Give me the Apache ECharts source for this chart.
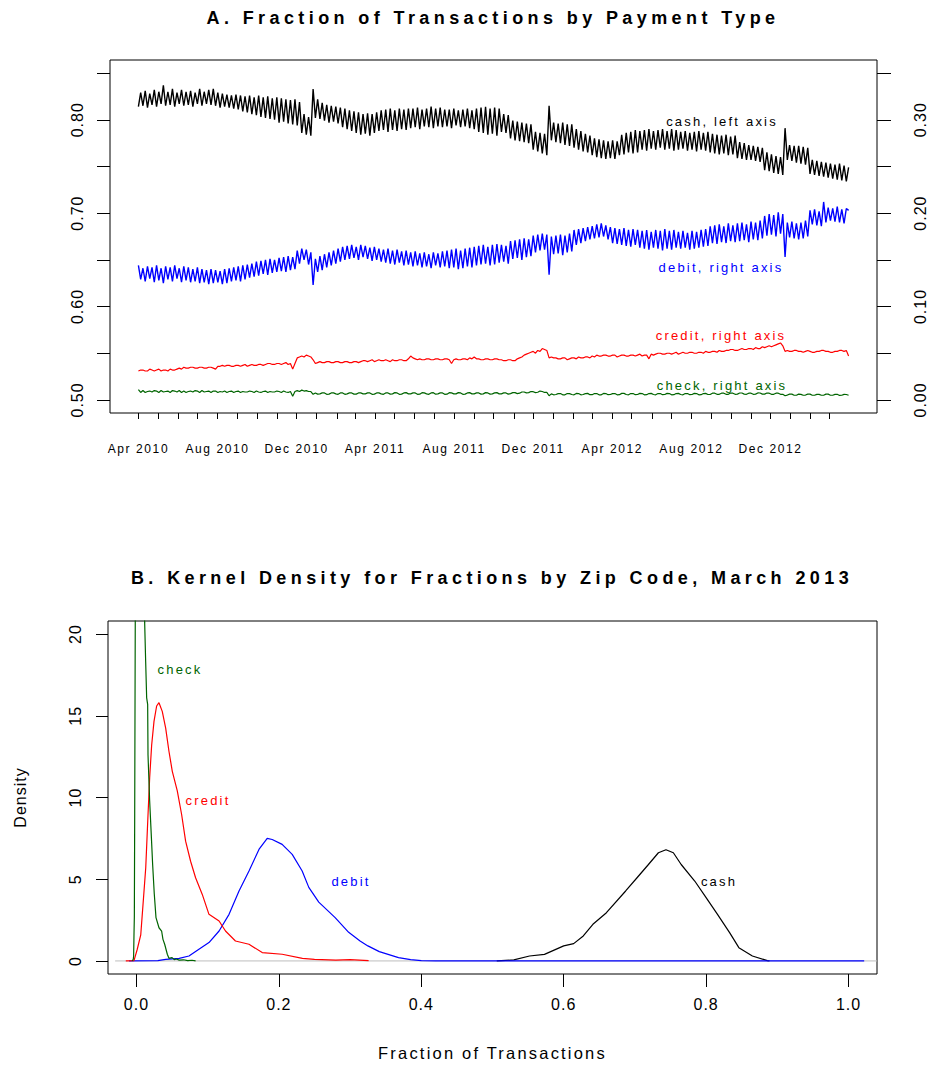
<!DOCTYPE html>
<html>
<head>
<meta charset="utf-8">
<title>Payment type fractions</title>
<script src="https://cdn.jsdelivr.net/npm/echarts@6/dist/echarts.min.js"></script>
<style>
  html, body { margin: 0; padding: 0; background: #fff; }
  #chart { width: 931px; height: 1068px; }
  /* spaced-out lettering of the plot texts */
  #chart text { letter-spacing: 1px; }
  #chart text[style*="12px"] { letter-spacing: 1.6px; }
  #chart text[style*="13px"] { letter-spacing: 2.2px; }
  #chart text[style*="16.5px"] { letter-spacing: 2.2px; }
  #chart text[style*="bold"] { letter-spacing: 4.4px; }
</style>
</head>
<body>
<div id="chart"></div>
<script>
// ---------- Panel A: share of transactions by payment type ----------
// Values are sampled every 3.5 days from 1 Apr 2010 (two samples per week).
const seriesStart = '2010-04-01';
const sampleStepDays = 3.5;

// cash, left axis
const cashShare = [
  0.814,0.829, 0.815,0.831, 0.813,0.828, 0.816,0.832, 0.814,0.830, 0.817,0.837, 0.815,0.830, 0.816,0.833, 0.814,0.829, 0.817,0.832,
  0.815,0.830, 0.816,0.831, 0.814,0.829, 0.817,0.833, 0.815,0.830, 0.817,0.832, 0.816,0.833, 0.815,0.829, 0.813,0.828, 0.814,0.827,
  0.813,0.826, 0.812,0.827, 0.811,0.826, 0.809,0.825, 0.808,0.826, 0.806,0.824, 0.805,0.826, 0.803,0.824, 0.802,0.825, 0.801,0.823,
  0.800,0.824, 0.797,0.823, 0.798,0.822, 0.796,0.821, 0.795,0.822, 0.794,0.819, 0.786,0.806, 0.784,0.803, 0.783,0.833, 0.802,0.822,
  0.801,0.818, 0.799,0.816, 0.797,0.815, 0.798,0.814, 0.796,0.813, 0.792,0.812, 0.790,0.810, 0.788,0.809, 0.786,0.808, 0.784,0.806,
  0.785,0.807, 0.783,0.806, 0.786,0.808, 0.788,0.810, 0.789,0.811, 0.787,0.812, 0.789,0.810, 0.788,0.812, 0.790,0.811, 0.789,0.812,
  0.791,0.812, 0.792,0.813, 0.790,0.811, 0.793,0.812, 0.792,0.814, 0.791,0.812, 0.793,0.813, 0.792,0.811, 0.793,0.811, 0.791,0.812,
  0.794,0.810, 0.792,0.811, 0.793,0.812, 0.791,0.810, 0.790,0.812, 0.787,0.813, 0.786,0.814, 0.784,0.812, 0.785,0.813, 0.783,0.812,
  0.787,0.806, 0.786,0.805, 0.780,0.799, 0.778,0.798, 0.777,0.797, 0.776,0.796, 0.775,0.795, 0.768,0.787, 0.766,0.786, 0.764,0.785,
  0.762,0.815, 0.778,0.797, 0.776,0.796, 0.775,0.797, 0.773,0.795, 0.772,0.795, 0.770,0.790, 0.768,0.788, 0.766,0.785, 0.765,0.783,
  0.762,0.780, 0.760,0.779, 0.759,0.778, 0.758,0.777, 0.759,0.778, 0.758,0.777, 0.762,0.784, 0.763,0.786, 0.765,0.787, 0.764,0.789,
  0.765,0.788, 0.768,0.789, 0.767,0.790, 0.769,0.788, 0.768,0.789, 0.770,0.790, 0.768,0.788, 0.769,0.790, 0.767,0.789, 0.768,0.787,
  0.769,0.788, 0.767,0.786, 0.768,0.787, 0.766,0.788, 0.768,0.786, 0.767,0.787, 0.765,0.785, 0.764,0.784, 0.763,0.783, 0.764,0.784,
  0.762,0.782, 0.763,0.783, 0.759,0.776, 0.758,0.775, 0.757,0.773, 0.757,0.772, 0.756,0.771, 0.755,0.770, 0.746,0.765, 0.745,0.763,
  0.743,0.761, 0.742,0.760, 0.741,0.791, 0.757,0.773, 0.756,0.772, 0.754,0.772, 0.753,0.771, 0.752,0.770, 0.742,0.757, 0.741,0.756,
  0.740,0.755, 0.739,0.754, 0.738,0.753, 0.737,0.752, 0.736,0.753, 0.735,0.751, 0.734,0.749
];

// debit, right axis
const debitShare = [
  0.144,0.129, 0.141,0.127, 0.143,0.130, 0.142,0.126, 0.144,0.128, 0.141,0.125, 0.143,0.129, 0.142,0.127, 0.144,0.130, 0.141,0.126,
  0.143,0.128, 0.142,0.126, 0.140,0.127, 0.142,0.125, 0.140,0.126, 0.139,0.124, 0.140,0.125, 0.139,0.126, 0.138,0.124, 0.140,0.125,
  0.141,0.127, 0.142,0.128, 0.143,0.127, 0.144,0.129, 0.145,0.131, 0.146,0.132, 0.148,0.133, 0.149,0.135, 0.150,0.134, 0.151,0.136,
  0.150,0.137, 0.152,0.138, 0.153,0.137, 0.154,0.139, 0.153,0.140, 0.160,0.146, 0.162,0.150, 0.161,0.145, 0.158,0.123, 0.151,0.137,
  0.154,0.139, 0.156,0.142, 0.158,0.144, 0.160,0.146, 0.162,0.148, 0.164,0.150, 0.165,0.151, 0.166,0.152, 0.164,0.150, 0.166,0.153,
  0.165,0.151, 0.163,0.149, 0.164,0.150, 0.162,0.148, 0.161,0.147, 0.162,0.146, 0.160,0.145, 0.161,0.147, 0.159,0.144, 0.160,0.145,
  0.158,0.143, 0.159,0.144, 0.157,0.142, 0.158,0.143, 0.156,0.141, 0.158,0.144, 0.157,0.142, 0.159,0.143, 0.160,0.141, 0.161,0.142,
  0.162,0.140, 0.160,0.141, 0.162,0.143, 0.163,0.142, 0.164,0.144, 0.165,0.145, 0.166,0.146, 0.164,0.144, 0.166,0.145, 0.167,0.147,
  0.166,0.148, 0.165,0.146, 0.170,0.151, 0.171,0.152, 0.172,0.150, 0.173,0.153, 0.172,0.154, 0.176,0.158, 0.177,0.160, 0.178,0.161,
  0.177,0.134, 0.175,0.156, 0.176,0.157, 0.177,0.155, 0.176,0.158, 0.178,0.159, 0.182,0.166, 0.183,0.168, 0.184,0.170, 0.185,0.172,
  0.186,0.173, 0.188,0.174, 0.189,0.175, 0.187,0.172, 0.185,0.168, 0.184,0.167, 0.183,0.166, 0.184,0.165, 0.182,0.164, 0.183,0.166,
  0.182,0.163, 0.181,0.162, 0.182,0.161, 0.180,0.163, 0.182,0.162, 0.181,0.160, 0.183,0.162, 0.181,0.161, 0.182,0.163, 0.180,0.162,
  0.181,0.163, 0.179,0.161, 0.181,0.162, 0.180,0.163, 0.182,0.164, 0.183,0.165, 0.186,0.168, 0.187,0.167, 0.188,0.169, 0.186,0.168,
  0.189,0.170, 0.187,0.169, 0.189,0.170, 0.190,0.171, 0.188,0.169, 0.191,0.172, 0.190,0.171, 0.192,0.173, 0.197,0.176, 0.199,0.177,
  0.198,0.175, 0.201,0.178, 0.199,0.153, 0.190,0.174, 0.191,0.173, 0.189,0.172, 0.190,0.173, 0.192,0.175, 0.203,0.188, 0.204,0.187,
  0.202,0.186, 0.212,0.190, 0.206,0.192, 0.205,0.191, 0.207,0.190, 0.204,0.189, 0.205,0.203
];

// credit, right axis
const creditShare = [
  0.031,0.032, 0.032,0.031, 0.031,0.033, 0.032,0.031, 0.032,0.033, 0.031,0.032, 0.032,0.031, 0.033,0.032, 0.032,0.033, 0.034,0.033,
  0.035,0.034, 0.034,0.035, 0.035,0.034, 0.034,0.035, 0.035,0.034, 0.034,0.035, 0.035,0.034, 0.033,0.036, 0.036,0.037, 0.036,0.037,
  0.037,0.036, 0.036,0.037, 0.037,0.036, 0.037,0.038, 0.036,0.037, 0.038,0.037, 0.037,0.038, 0.038,0.037, 0.038,0.039, 0.039,0.038,
  0.038,0.039, 0.039,0.038, 0.039,0.040, 0.038,0.039, 0.033,0.039, 0.045,0.046, 0.047,0.046, 0.048,0.047, 0.046,0.043, 0.039,0.040,
  0.041,0.040, 0.040,0.041, 0.041,0.040, 0.040,0.041, 0.041,0.040, 0.040,0.041, 0.041,0.040, 0.040,0.041, 0.041,0.040, 0.041,0.042,
  0.042,0.041, 0.042,0.043, 0.041,0.042, 0.043,0.042, 0.042,0.043, 0.042,0.041, 0.043,0.042, 0.042,0.043, 0.043,0.042, 0.042,0.044,
  0.047,0.045, 0.044,0.043, 0.044,0.043, 0.043,0.044, 0.044,0.043, 0.043,0.044, 0.044,0.043, 0.043,0.044, 0.044,0.043, 0.039,0.043,
  0.044,0.043, 0.043,0.044, 0.044,0.043, 0.045,0.044, 0.046,0.044, 0.044,0.043, 0.043,0.044, 0.044,0.043, 0.043,0.044, 0.044,0.043,
  0.043,0.042, 0.042,0.043, 0.043,0.042, 0.042,0.044, 0.045,0.046, 0.048,0.049, 0.050,0.051, 0.052,0.050, 0.053,0.052, 0.055,0.054,
  0.053,0.045, 0.046,0.045, 0.045,0.044, 0.044,0.045, 0.045,0.043, 0.044,0.045, 0.045,0.044, 0.046,0.045, 0.045,0.046, 0.046,0.045,
  0.047,0.046, 0.048,0.047, 0.047,0.048, 0.048,0.047, 0.047,0.048, 0.048,0.046, 0.047,0.048, 0.048,0.047, 0.047,0.048, 0.048,0.047,
  0.048,0.049, 0.047,0.048, 0.048,0.044, 0.049,0.048, 0.049,0.050, 0.050,0.049, 0.049,0.050, 0.050,0.049, 0.050,0.051, 0.049,0.050,
  0.051,0.050, 0.050,0.051, 0.051,0.050, 0.050,0.051, 0.051,0.050, 0.052,0.051, 0.051,0.052, 0.052,0.051, 0.053,0.052, 0.052,0.053,
  0.053,0.054, 0.054,0.053, 0.053,0.054, 0.055,0.054, 0.054,0.055, 0.055,0.054, 0.056,0.055, 0.055,0.057, 0.056,0.057, 0.058,0.057,
  0.058,0.059, 0.060,0.061, 0.058,0.052, 0.053,0.052, 0.052,0.053, 0.053,0.052, 0.052,0.051, 0.052,0.053, 0.052,0.051, 0.051,0.052,
  0.052,0.053, 0.053,0.052, 0.052,0.051, 0.051,0.052, 0.052,0.053, 0.053,0.052, 0.053,0.047
];

// check, right axis
const checkShare = [
  0.011,0.008, 0.010,0.008, 0.009,0.0095, 0.0085,0.010, 0.0095,0.008, 0.010,0.0085, 0.009,0.0095, 0.008,0.010, 0.0095,0.0085, 0.010,0.008,
  0.0095,0.008, 0.009,0.0095, 0.0085,0.010, 0.0095,0.008, 0.010,0.0085, 0.009,0.0095, 0.008,0.0095, 0.0095,0.008, 0.009,0.0085, 0.0095,0.008,
  0.009,0.0095, 0.008,0.009, 0.0095,0.008, 0.009,0.0085, 0.0085,0.0095, 0.009,0.008, 0.0095,0.0085, 0.008,0.009, 0.0095,0.008, 0.009,0.0085,
  0.0085,0.0095, 0.009,0.008, 0.0095,0.0085, 0.008,0.009, 0.004,0.009, 0.010,0.009, 0.0105,0.0095, 0.010,0.009, 0.009,0.006, 0.0075,0.0062,
  0.0065,0.0075, 0.0075,0.006, 0.0062,0.0075, 0.0075,0.0065, 0.006,0.0075, 0.0075,0.006, 0.0065,0.0075, 0.0075,0.0062, 0.0062,0.0075, 0.0075,0.0065,
  0.0065,0.0075, 0.0075,0.006, 0.0062,0.0075, 0.0075,0.0065, 0.006,0.0075, 0.0075,0.0062, 0.0065,0.0078, 0.0075,0.006, 0.0062,0.0075, 0.0078,0.0065,
  0.0065,0.0075, 0.0075,0.006, 0.0062,0.0078, 0.0075,0.0065, 0.006,0.0075, 0.0078,0.0062, 0.0065,0.0075, 0.0075,0.006, 0.0062,0.0078, 0.0075,0.0065,
  0.0065,0.0078, 0.0075,0.006, 0.0062,0.0075, 0.0078,0.0065, 0.0065,0.0075, 0.0075,0.0062, 0.0065,0.0078, 0.0075,0.0062, 0.0065,0.0075, 0.0078,0.0065,
  0.0065,0.0075, 0.0075,0.0062, 0.0068,0.0078, 0.0078,0.0068, 0.0072,0.0085, 0.0085,0.0075, 0.0078,0.009, 0.0088,0.0078, 0.0082,0.0095, 0.009,0.008,
  0.008,0.0045, 0.0065,0.0055, 0.0058,0.0068, 0.0068,0.0055, 0.0055,0.0068, 0.0068,0.0058, 0.0055,0.007, 0.0068,0.0055, 0.0058,0.0068, 0.007,0.0056,
  0.0056,0.0068, 0.0068,0.0055, 0.0055,0.007, 0.0068,0.0056, 0.0058,0.0068, 0.0068,0.0055, 0.0056,0.007, 0.007,0.0058, 0.0055,0.0068, 0.0068,0.0056,
  0.0058,0.007, 0.0068,0.0055, 0.0056,0.0068, 0.007,0.0058, 0.0055,0.0068, 0.0068,0.0056, 0.0058,0.007, 0.0068,0.0055, 0.0056,0.0068, 0.007,0.0058,
  0.0055,0.0068, 0.0068,0.0056, 0.0058,0.007, 0.0068,0.0055, 0.0056,0.0068, 0.007,0.0058, 0.0058,0.0072, 0.0072,0.006, 0.006,0.0072, 0.0072,0.006,
  0.006,0.0074, 0.0072,0.006, 0.0062,0.0074, 0.0074,0.0062, 0.006,0.0072, 0.0072,0.006, 0.0062,0.0075, 0.0074,0.0062, 0.0062,0.0074, 0.0072,0.006,
  0.006,0.0072, 0.0072,0.006, 0.006,0.0045, 0.0052,0.0062, 0.0062,0.005, 0.005,0.0062, 0.006,0.005, 0.0052,0.0062, 0.0062,0.005, 0.005,0.006,
  0.006,0.005, 0.005,0.0062, 0.0062,0.005, 0.005,0.006, 0.006,0.0048, 0.005,0.006, 0.0058,0.005
];

const dateTickLabels = ['Apr 2010', 'Aug 2010', 'Dec 2010', 'Apr 2011', 'Aug 2011', 'Dec 2011', 'Apr 2012', 'Aug 2012', 'Dec 2012'];
const dateTickDates = ['2010-04-01', '2010-08-01', '2010-12-01', '2011-04-01', '2011-08-01', '2011-12-01', '2012-04-01', '2012-08-01', '2012-12-01'];
const leftAxisTicks = [0.50, 0.55, 0.60, 0.65, 0.70, 0.75, 0.80, 0.85];
const leftAxisLabels = [0.50, 0.60, 0.70, 0.80];
const rightAxisTicks = [0.00, 0.05, 0.10, 0.15, 0.20, 0.25, 0.30, 0.35];
const rightAxisLabels = [0.00, 0.10, 0.20, 0.30];

// ---------- Panel B: kernel densities by zip code, March 2013 ----------
// [fraction of transactions, density]
const cashDensity = [
  [0.506,0], [0.53,0.06], [0.552,0.3], [0.573,0.4], [0.6,0.92], [0.614,1.06], [0.6275,1.53], [0.641,2.24],
  [0.66,2.95], [0.687,4.28], [0.703,5.09], [0.719,5.9], [0.733,6.62], [0.7436,6.8], [0.754,6.62], [0.765,5.9],
  [0.784,4.89], [0.8,3.87], [0.816,2.85], [0.833,1.73], [0.846,0.81], [0.865,0.3], [0.886,0.02], [0.889,0]
];
const debitDensity = [
  [-0.0105,0], [0.03,0.02], [0.041,0.1], [0.06,0.16], [0.0737,0.3], [0.0877,0.71], [0.1018,1.12], [0.116,1.83],
  [0.13,2.85], [0.144,4.28], [0.158,5.5], [0.172,6.82], [0.1836,7.5], [0.1906,7.43], [0.2046,7.13], [0.2187,6.52],
  [0.2327,5.5], [0.242,4.5], [0.256,3.6], [0.279,2.65], [0.298,1.75], [0.314,1.22], [0.325,0.92], [0.341,0.57],
  [0.368,0.2], [0.385,0.08], [0.4,0.02], [0.42,0], [1.022,0]
];
const creditDensity = [
  [-0.015,0], [-0.0035,0.02], [0.001,0.7], [0.006,1.6], [0.0096,3.7], [0.013,5.7], [0.016,8.75], [0.0185,11.2],
  [0.0213,13.2], [0.0246,14.66], [0.0283,15.6], [0.0316,15.8], [0.0362,15.27], [0.041,14.25], [0.0456,12.83],
  [0.0503,11.6], [0.0573,10.4], [0.0634,8.96], [0.069,7.33], [0.076,6.1], [0.083,5.09], [0.0924,4.07], [0.1018,2.85],
  [0.116,2.44], [0.125,1.83], [0.139,1.22], [0.158,1.02], [0.1766,0.51], [0.2046,0.41], [0.233,0.16], [0.25,0.1],
  [0.28,0.05], [0.3,0.08], [0.326,0.02]
];
const checkDensity = [
  [-0.006,0], [-0.0045,0.1], [-0.004,0.3], [-0.0035,1.6], [-0.003,2.7], [-0.0025,9], [-0.0017,21], [0,38],
  [0.003,47], [0.006,44], [0.008,36], [0.010,26], [0.0115,20.7], [0.0129,18.3], [0.0143,16.1], [0.0157,15.7],
  [0.0162,12.6], [0.0185,9.8], [0.021,7.5], [0.0227,5.9], [0.025,4.1], [0.0274,2.65], [0.0316,2.03], [0.0353,1.83],
  [0.0372,1.32], [0.0396,1.02], [0.0433,0.41], [0.0456,0.16], [0.05,0.2], [0.053,0.08], [0.056,0.12], [0.06,0.05],
  [0.066,0.07], [0.072,0.02], [0.078,0.04], [0.083,0]
];
const fractionTicks = [0, 0.2, 0.4, 0.6, 0.8, 1.0];
const densityTicks = [0, 5, 10, 15, 20];

// ---------- build ----------
const DAY = 86400000;
const t0 = Date.parse(seriesStart);
const toTimed = arr => arr.map((v, i) => [t0 + i * sampleStepDays * DAY, v]);
const lastDay = (cashShare.length - 1) * sampleStepDays;
const pad = 0.04 * lastDay;

// first day of every month, Apr 2010 .. Mar 2013
const monthTicks = [];
for (let k = 0; k < 36; k++) monthTicks.push(Date.UTC(2010, 3 + k, 1));
const labelTimes = dateTickDates.map(d => Date.parse(d));
const labelByTime = {};
labelTimes.forEach((t, i) => { labelByTime[t] = dateTickLabels[i]; });

const FONT = 'Liberation Sans';
const BLACK = '#000000';
const tickStyle = { color: BLACK, width: 1 };
const noSplit = { show: false };
// axes sit on the box edges, never on the other axis' zero
const noLine = { show: false, onZero: false };

function txt(text, x, y, fill, font) {
  return {
    type: 'text', x: x, y: y, z: 100, silent: true,
    style: { text: text, fill: fill, font: font,
      textAlign: 'center', textVerticalAlign: 'middle', align: 'center', verticalAlign: 'middle' }
  };
}

const chart = echarts.init(document.getElementById('chart'), null, { renderer: 'svg' });

chart.setOption({
  animation: false,
  backgroundColor: '#ffffff',
  textStyle: { fontFamily: FONT, color: BLACK },
  grid: [
    { left: 110, width: 767, top: 60, height: 353, show: true, borderColor: BLACK, borderWidth: 1,
      backgroundColor: 'transparent', containLabel: false },
    { left: 108, width: 769, top: 621, height: 353, show: true, borderColor: BLACK, borderWidth: 1,
      backgroundColor: 'transparent', containLabel: false }
  ],
  xAxis: [
    {
      // time in milliseconds
      type: 'value', gridIndex: 0, position: 'bottom',
      min: t0 - pad * DAY, max: t0 + (lastDay + pad) * DAY,
      axisLine: noLine, splitLine: noSplit,
      axisTick: { show: true, length: 6, lineStyle: tickStyle, customValues: monthTicks },
      axisLabel: {
        customValues: labelTimes, margin: 30, fontSize: 12, color: BLACK, fontFamily: FONT,
        formatter: v => labelByTime[v] || ''
      }
    },
    {
      type: 'value', gridIndex: 1, position: 'bottom', min: -0.04, max: 1.04,
      axisLine: noLine, splitLine: noSplit,
      axisTick: { show: true, length: 13, lineStyle: tickStyle, customValues: fractionTicks },
      axisLabel: { customValues: fractionTicks, margin: 22, fontSize: 16, color: BLACK, fontFamily: FONT,
        formatter: v => v.toFixed(1) },
      name: 'Fraction of Transactions', nameLocation: 'middle', nameGap: 70,
      nameTextStyle: { fontSize: 16.5, color: BLACK, fontFamily: FONT }
    }
  ],
  yAxis: [
    {
      type: 'value', gridIndex: 0, position: 'left', min: 0.486, max: 0.864,
      axisLine: noLine, splitLine: noSplit,
      axisTick: { show: true, length: 13, lineStyle: tickStyle, customValues: leftAxisTicks },
      axisLabel: { customValues: leftAxisLabels, rotate: 90, margin: 25, fontSize: 16, color: BLACK, fontFamily: FONT,
        formatter: v => v.toFixed(2) }
    },
    {
      type: 'value', gridIndex: 0, position: 'right', min: -0.014, max: 0.364,
      axisLine: noLine, splitLine: noSplit,
      axisTick: { show: true, length: 14, lineStyle: tickStyle, customValues: rightAxisTicks },
      axisLabel: { customValues: rightAxisLabels, rotate: 90, margin: 35, fontSize: 16, color: BLACK, fontFamily: FONT,
        formatter: v => v.toFixed(2) }
    },
    {
      type: 'value', gridIndex: 1, position: 'left', min: -0.8, max: 20.8,
      axisLine: noLine, splitLine: noSplit,
      axisTick: { show: true, length: 12, lineStyle: tickStyle, customValues: densityTicks },
      axisLabel: { customValues: densityTicks, rotate: 90, margin: 25, fontSize: 16, color: BLACK, fontFamily: FONT,
        formatter: v => String(v) },
      name: 'Density', nameLocation: 'middle', nameGap: 80, nameRotate: 90,
      nameTextStyle: { fontSize: 16, color: BLACK, fontFamily: FONT }
    }
  ],
  series: [
    { name: 'cash', type: 'line', xAxisIndex: 0, yAxisIndex: 0, data: toTimed(cashShare),
      symbol: 'none', lineStyle: { color: '#000000', width: 1.4 }, itemStyle: { color: '#000000' } },
    { name: 'debit', type: 'line', xAxisIndex: 0, yAxisIndex: 1, data: toTimed(debitShare),
      symbol: 'none', lineStyle: { color: '#0000FF', width: 1.4 }, itemStyle: { color: '#0000FF' } },
    { name: 'credit', type: 'line', xAxisIndex: 0, yAxisIndex: 1, data: toTimed(creditShare),
      symbol: 'none', lineStyle: { color: '#FF0000', width: 1.2 }, itemStyle: { color: '#FF0000' } },
    { name: 'check', type: 'line', xAxisIndex: 0, yAxisIndex: 1, data: toTimed(checkShare),
      symbol: 'none', lineStyle: { color: '#006400', width: 1.2 }, itemStyle: { color: '#006400' } },

    { name: 'zero', type: 'line', xAxisIndex: 1, yAxisIndex: 2, data: [[-0.03, 0], [1.04, 0]],
      symbol: 'none', lineStyle: { color: '#BEBEBE', width: 1 }, silent: true },
    { name: 'cash density', type: 'line', xAxisIndex: 1, yAxisIndex: 2, data: cashDensity,
      symbol: 'none', lineStyle: { color: '#000000', width: 1.2 } },
    { name: 'debit density', type: 'line', xAxisIndex: 1, yAxisIndex: 2, data: debitDensity,
      symbol: 'none', lineStyle: { color: '#0000FF', width: 1.2 } },
    { name: 'credit density', type: 'line', xAxisIndex: 1, yAxisIndex: 2, data: creditDensity,
      symbol: 'none', lineStyle: { color: '#FF0000', width: 1.2 } },
    { name: 'check density', type: 'line', xAxisIndex: 1, yAxisIndex: 2, data: checkDensity,
      symbol: 'none', clip: true, lineStyle: { color: '#006400', width: 1.2 } }
  ],
  graphic: [
    txt('A. Fraction of Transactions by Payment Type', 493, 18, BLACK, 'bold 18px ' + FONT),
    txt('B. Kernel Density for Fractions by Zip Code, March 2013', 492, 578, BLACK, 'bold 18px ' + FONT),
    txt('cash, left axis', 722, 121, '#000000', '13px ' + FONT),
    txt('debit, right axis', 721, 267, '#0000FF', '13px ' + FONT),
    txt('credit, right axis', 721, 335, '#FF0000', '13px ' + FONT),
    txt('check, right axis', 722, 385, '#006400', '13px ' + FONT),
    txt('check', 180, 669, '#006400', '13px ' + FONT),
    txt('credit', 208, 800, '#FF0000', '13px ' + FONT),
    txt('debit', 351, 881, '#0000FF', '13px ' + FONT),
    txt('cash', 719, 881, '#000000', '13px ' + FONT)
  ]
});
</script>
</body>
</html>
